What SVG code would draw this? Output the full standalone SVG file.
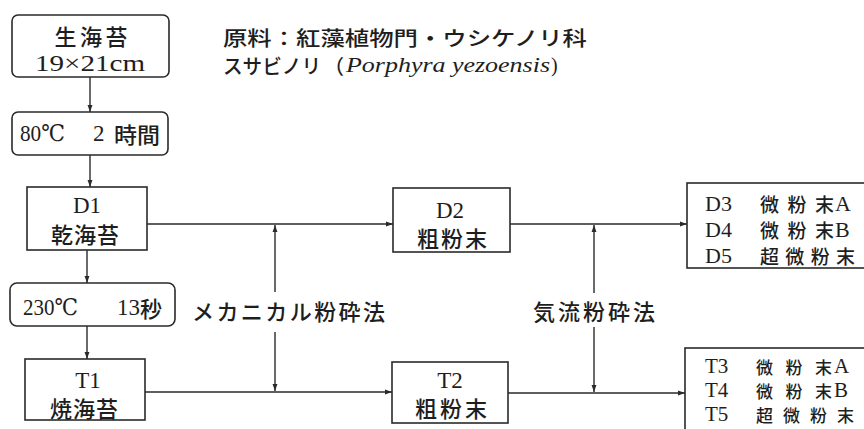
<svg xmlns="http://www.w3.org/2000/svg" width="864" height="429" viewBox="0 0 864 429">
<defs>
<marker id="ah" viewBox="0 0 10 10" refX="10" refY="5" markerWidth="7" markerHeight="7" markerUnits="userSpaceOnUse" orient="auto">
<path d="M0,1.5 L10,5 L0,8.5 Z" fill="#2a2a2a"/>
</marker>
</defs>
<style>
.box{fill:#fff;stroke:#2a2a2a;stroke-width:1.6}
.ln{fill:none;stroke:#2a2a2a;stroke-width:1.4}
text{font-family:'Liberation Serif','DejaVu Serif',serif;font-size:22px;fill:#1e1e1e;dominant-baseline:central}
.jp{font-family:'Noto Sans CJK JP',sans-serif;font-size:22px;font-weight:500}
.lat{font-family:'Liberation Serif','DejaVu Serif',serif;font-size:23px;font-weight:400}
.c{text-anchor:middle}
.ti{font-size:20px}
.sm{font-size:19px}
.xs{font-size:17px}
.ls{font-size:22px}
.lx{font-size:21px}
</style>
<rect width="864" height="429" fill="#fff"/>

<g id="title">
<text class="jp ti" x="223" y="37" textLength="364" lengthAdjust="spacingAndGlyphs">原料：紅藻植物門・ウシケノリ科</text>
<text class="jp ti" x="223" y="65" textLength="98" lengthAdjust="spacingAndGlyphs">スサビノリ</text>
<text class="jp ti" x="324" y="65">（</text>
<text class="lat ti" x="346" y="65" font-style="italic" textLength="204" lengthAdjust="spacingAndGlyphs">Porphyra yezoensis</text>
<text class="lat ti" x="551" y="65">)</text>
</g>

<g id="raw">
<rect class="box" x="12" y="15" width="157" height="62" rx="6"/>
<text class="jp c" x="91" y="35" textLength="73" lengthAdjust="spacing">生海苔</text>
<text class="lat c" x="90" y="63" textLength="110" lengthAdjust="spacingAndGlyphs">19×21cm</text>
</g>

<g id="dry">
<rect class="box" x="12" y="112" width="156" height="43" rx="6"/>
<text class="lat" x="20" y="133" textLength="45" lengthAdjust="spacingAndGlyphs">80℃</text>
<text class="lat" x="93" y="133">2</text>
<text class="jp" x="114" y="133" textLength="46" lengthAdjust="spacingAndGlyphs">時間</text>
</g>

<g id="D1">
<rect class="box" x="27" y="187" width="120" height="63"/>
<text class="lat c" x="87" y="205">D1</text>
<text class="jp c" x="85" y="233" textLength="68" lengthAdjust="spacing">乾海苔</text>
</g>

<g id="toast">
<rect class="box" x="10" y="283" width="165" height="43" rx="7"/>
<text class="lat" x="23" y="307" textLength="55" lengthAdjust="spacingAndGlyphs">230℃</text>
<text class="lat" x="117" y="307">13</text>
<text class="jp" x="140" y="307">秒</text>
</g>

<g id="T1">
<rect class="box" x="25" y="359" width="120" height="61"/>
<text class="lat c" x="88" y="380">T1</text>
<text class="jp c" x="84" y="407" textLength="68" lengthAdjust="spacing">焼海苔</text>
</g>

<g id="D2">
<rect class="box" x="393" y="188" width="117" height="64"/>
<text class="lat c" x="450" y="210">D2</text>
<text class="jp c" x="452" y="237" textLength="70" lengthAdjust="spacing">粗粉末</text>
</g>

<g id="T2">
<rect class="box" x="392" y="362" width="116" height="61"/>
<text class="lat c" x="450" y="380">T2</text>
<text class="jp c" x="451" y="407" textLength="72" lengthAdjust="spacing">粗粉末</text>
</g>

<g id="D3">
<rect class="box" x="687" y="183" width="190" height="85"/>
<text class="lat ls" x="705" y="203">D3</text>
<text class="jp sm" x="760" y="203" textLength="74" lengthAdjust="spacing">微粉末</text>
<text class="lat ls" x="835" y="203">A</text>
<text class="lat ls" x="705" y="229">D4</text>
<text class="jp sm" x="760" y="229" textLength="74" lengthAdjust="spacing">微粉末</text>
<text class="lat ls" x="835" y="229">B</text>
<text class="lat ls" x="705" y="255">D5</text>
<text class="jp sm" x="760" y="255" textLength="95" lengthAdjust="spacing">超微粉末</text>
</g>

<g id="T3">
<rect class="box" x="685" y="348" width="190" height="90"/>
<text class="lat lx" x="705" y="366">T3</text>
<text class="jp xs" x="756" y="366" textLength="76" lengthAdjust="spacing">微粉末</text>
<text class="lat lx" x="834" y="366">A</text>
<text class="lat lx" x="705" y="390">T4</text>
<text class="jp xs" x="756" y="390" textLength="76" lengthAdjust="spacing">微粉末</text>
<text class="lat lx" x="834" y="390">B</text>
<text class="lat lx" x="705" y="414">T5</text>
<text class="jp xs" x="756" y="414" textLength="98" lengthAdjust="spacing">超微粉末</text>
</g>

<g id="labels">
<text class="jp" x="192" y="310" textLength="193" lengthAdjust="spacing">メカニカル粉砕法</text>
<text class="jp" x="533" y="310" textLength="122" lengthAdjust="spacing">気流粉砕法</text>
</g>

<g id="connectors">
<line class="ln" x1="90" y1="77" x2="90" y2="112" marker-end="url(#ah)"/>
<line class="ln" x1="90" y1="155" x2="90" y2="187" marker-end="url(#ah)"/>
<line class="ln" x1="87" y1="250" x2="87" y2="283" marker-end="url(#ah)"/>
<line class="ln" x1="87" y1="326" x2="87" y2="359" marker-end="url(#ah)"/>
<line class="ln" x1="147" y1="224" x2="393" y2="224" marker-end="url(#ah)"/>
<line class="ln" x1="145" y1="392" x2="392" y2="392" marker-end="url(#ah)"/>
<line class="ln" x1="510" y1="224" x2="687" y2="224" marker-end="url(#ah)"/>
<line class="ln" x1="508" y1="393" x2="685" y2="393" marker-end="url(#ah)"/>
<line class="ln" x1="275" y1="292" x2="275" y2="225" marker-end="url(#ah)"/>
<line class="ln" x1="275" y1="332" x2="275" y2="391" marker-end="url(#ah)"/>
<line class="ln" x1="594" y1="293" x2="594" y2="225" marker-end="url(#ah)"/>
<line class="ln" x1="594" y1="327" x2="594" y2="392" marker-end="url(#ah)"/>
</g>
</svg>
